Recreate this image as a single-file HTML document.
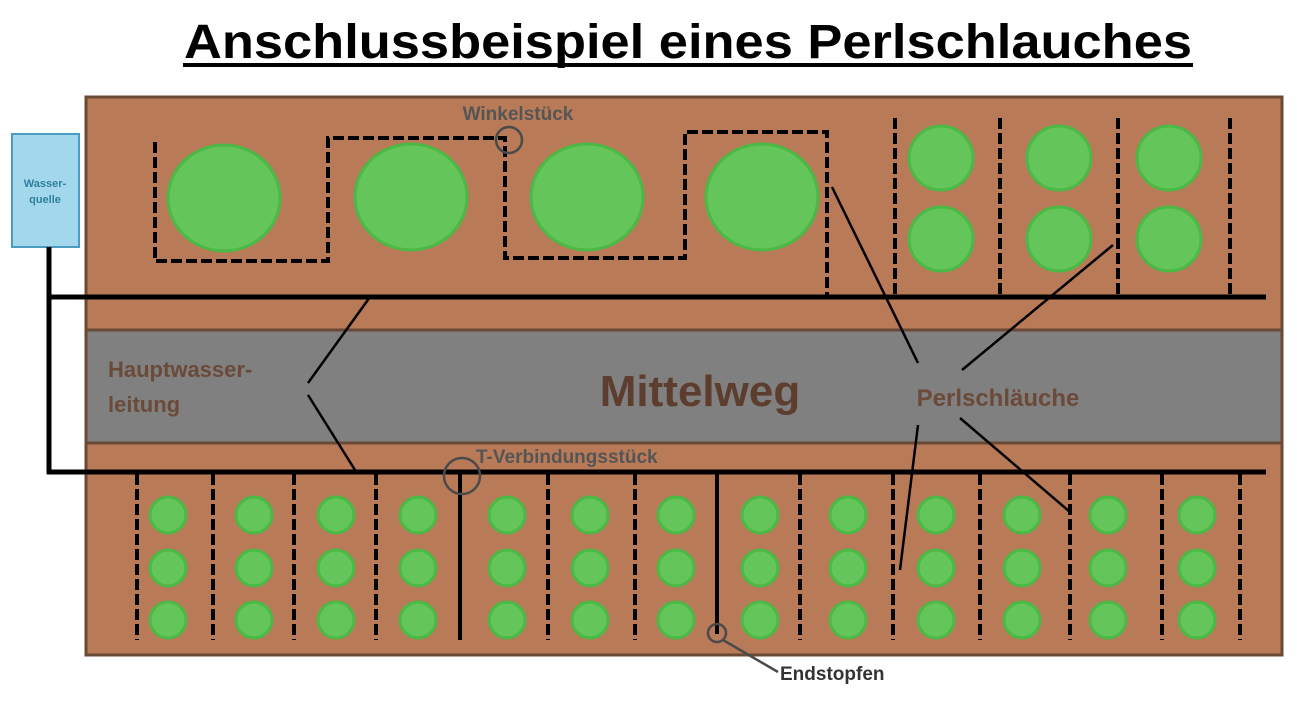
<!DOCTYPE html>
<html><head><meta charset="utf-8"><style>body{margin:0;background:#fff}svg{display:block}</style></head>
<body>
<svg width="1297" height="707" viewBox="0 0 1297 707" xmlns="http://www.w3.org/2000/svg" font-family="Liberation Sans, Arial, sans-serif" font-weight="bold">
<text x="688" y="58" font-size="48" text-anchor="middle" textLength="1008" lengthAdjust="spacingAndGlyphs" fill="#000">Anschlussbeispiel eines Perlschlauches</text>
<rect x="183" y="63" width="1010" height="4" fill="#000"/>
<rect x="86" y="97" width="1196" height="558" fill="#b97a58" stroke="#6b4a35" stroke-width="3"/>
<rect x="86" y="330" width="1196" height="113" fill="#808080" stroke="#6b4a35" stroke-width="3"/>
<rect x="12" y="134" width="67" height="113" fill="#a3d8ec" stroke="#4a9cc0" stroke-width="2"/>
<text x="45" y="187" font-size="11" text-anchor="middle" fill="#2f7f9e">Wasser-</text>
<text x="45" y="203" font-size="11" text-anchor="middle" fill="#2f7f9e">quelle</text>
<g stroke="#000" stroke-width="5" fill="none">
<path d="M49 247 V474"/><path d="M47 297 H1266"/><path d="M47 472 H1266"/>
</g>
<g fill="#63c55a" stroke="#4cb845" stroke-width="3">
<ellipse cx="224" cy="198" rx="56" ry="53"/><ellipse cx="411" cy="197" rx="56" ry="53"/>
<ellipse cx="587" cy="197" rx="56" ry="53"/><ellipse cx="762" cy="197" rx="56" ry="53"/>
<circle cx="941" cy="158" r="32"/><circle cx="1059" cy="158" r="32"/><circle cx="1169" cy="158" r="32"/>
<circle cx="941" cy="239" r="32"/><circle cx="1059" cy="239" r="32"/><circle cx="1169" cy="239" r="32"/>
</g>
<g fill="#63c55a" stroke="#4cb845" stroke-width="3" id="row">
<circle cx="168" cy="515" r="18"/><circle cx="254" cy="515" r="18"/><circle cx="336" cy="515" r="18"/><circle cx="418" cy="515" r="18"/><circle cx="507" cy="515" r="18"/><circle cx="590" cy="515" r="18"/><circle cx="676" cy="515" r="18"/><circle cx="760" cy="515" r="18"/><circle cx="848" cy="515" r="18"/><circle cx="936" cy="515" r="18"/><circle cx="1022" cy="515" r="18"/><circle cx="1108" cy="515" r="18"/><circle cx="1197" cy="515" r="18"/>
<circle cx="168" cy="568" r="18"/><circle cx="254" cy="568" r="18"/><circle cx="336" cy="568" r="18"/><circle cx="418" cy="568" r="18"/><circle cx="507" cy="568" r="18"/><circle cx="590" cy="568" r="18"/><circle cx="676" cy="568" r="18"/><circle cx="760" cy="568" r="18"/><circle cx="848" cy="568" r="18"/><circle cx="936" cy="568" r="18"/><circle cx="1022" cy="568" r="18"/><circle cx="1108" cy="568" r="18"/><circle cx="1197" cy="568" r="18"/>
<circle cx="168" cy="620" r="18"/><circle cx="254" cy="620" r="18"/><circle cx="336" cy="620" r="18"/><circle cx="418" cy="620" r="18"/><circle cx="507" cy="620" r="18"/><circle cx="590" cy="620" r="18"/><circle cx="676" cy="620" r="18"/><circle cx="760" cy="620" r="18"/><circle cx="848" cy="620" r="18"/><circle cx="936" cy="620" r="18"/><circle cx="1022" cy="620" r="18"/><circle cx="1108" cy="620" r="18"/><circle cx="1197" cy="620" r="18"/>
</g>
<g stroke="#000" stroke-width="4" fill="none" stroke-dasharray="11 4">
<path d="M155 142 V261 H328 V138 H505 V258 H685 V132 H827 V297"/>
<path d="M895 118 V297 M1000 118 V297 M1118 118 V297 M1230 118 V297"/>
<path d="M137 474 V640 M213 474 V640 M294 474 V640 M376 474 V640 M548 474 V640 M635 474 V640 M800 474 V640 M893 474 V640 M980 474 V640 M1070 474 V640 M1162 474 V640 M1240 474 V640"/>
</g>
<g stroke="#000" stroke-width="4"><path d="M460 474 V640 M717 474 V634"/></g>
<g stroke="#000" stroke-width="2.5">
<path d="M308 383 L370 297 M308 395 L355 470"/>
<path d="M918 363 L832 187 M962 370 L1113 245 M918 425 L900 570 M960 418 L1070 512"/>
</g>
<g fill="none" stroke="#4a4a4a" stroke-width="2.5">
<circle cx="509" cy="140" r="13"/><circle cx="462" cy="476" r="18"/><circle cx="717" cy="633" r="9"/>
<path d="M723 640 L778 672"/>
</g>
<text x="518" y="120" font-size="19" text-anchor="middle" fill="#555">Winkelstück</text>
<text x="476" y="463" font-size="19" fill="#555">T-Verbindungsstück</text>
<text x="780" y="680" font-size="19" fill="#333">Endstopfen</text>
<text x="700" y="406" font-size="44" text-anchor="middle" fill="#5c3d2e">Mittelweg</text>
<text x="108" y="377" font-size="22" fill="#6b4a3a">Hauptwasser-</text>
<text x="108" y="412" font-size="22" fill="#6b4a3a">leitung</text>
<text x="998" y="406" font-size="24" text-anchor="middle" fill="#6b4a3a">Perlschläuche</text>
</svg>
</body></html>
